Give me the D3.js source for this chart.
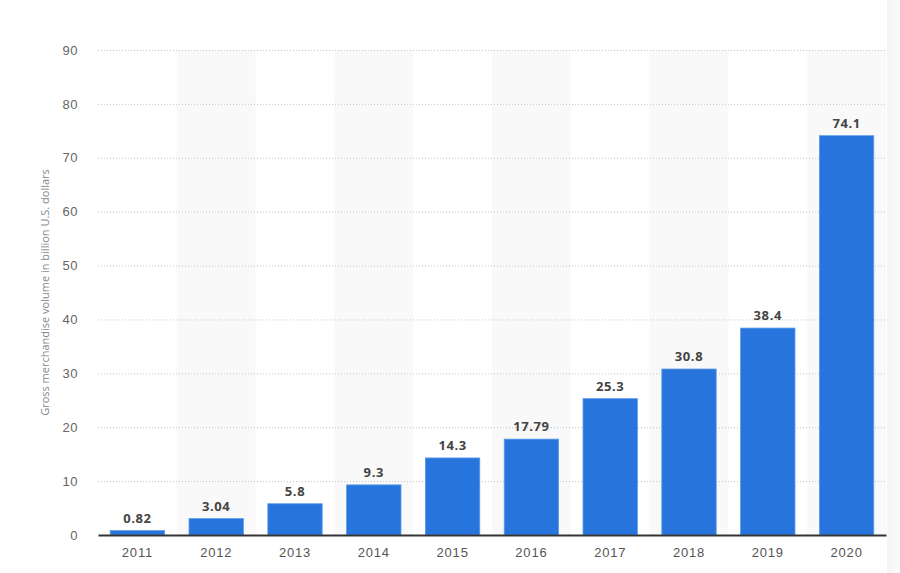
<!DOCTYPE html>
<html>
<head>
<meta charset="utf-8">
<script src="https://cdn.jsdelivr.net/npm/d3@7"></script>
<style>
  body { margin: 0; background: #fff; }
  svg { display: block; font-family: "Open Sans", sans-serif; }
</style>
</head>
<body>
<div id="chart"></div>
<script>
var years = ["2011", "2012", "2013", "2014", "2015", "2016", "2017", "2018", "2019", "2020"];
var values = [0.82, 3.04, 5.8, 9.3, 14.3, 17.79, 25.3, 30.8, 38.4, 74.1];
var yTicks = [0, 10, 20, 30, 40, 50, 60, 70, 80, 90];
var labels = ["0.82", "3.04", "5.8", "9.3", "14.3", "17.79", "25.3", "30.8", "38.4", "74.1"];

var W = 900, H = 573;
var margin = { top: 50, right: 14, bottom: 38, left: 98 },
    width = W - margin.left - margin.right,
    height = H - margin.top - margin.bottom;

var svg = d3.select("#chart").append("svg")
    .attr("width", W)
    .attr("height", H);

// soft shadow at the right edge
var grad = svg.append("defs").append("linearGradient")
    .attr("id", "edge").attr("x1", 0).attr("x2", 1).attr("y1", 0).attr("y2", 0);
grad.append("stop").attr("offset", 0).attr("stop-color", "#f5f5f5");
grad.append("stop").attr("offset", 1).attr("stop-color", "#fbfbfb");
svg.append("rect")
    .attr("x", W - 13).attr("y", 0)
    .attr("width", 13).attr("height", H)
    .attr("fill", "url(#edge)");

var g = svg.append("g")
    .attr("transform", "translate(" + margin.left + "," + margin.top + ")");

var x = d3.scaleBand()
    .domain(years)
    .range([0, width])
    .paddingInner(0.31)
    .paddingOuter(0.155);

var y = d3.scaleLinear()
    .domain([0, 90])
    .range([height, 0]);

// alternating column shading
g.selectAll("rect.band")
    .data(years.filter(function (d, i) { return i % 2 === 1; }))
    .enter().append("rect")
    .attr("class", "band")
    .attr("x", function (d) { return x(d) - x.step() * x.paddingInner() / 2; })
    .attr("y", 0)
    .attr("width", x.step())
    .attr("height", height)
    .attr("fill", "#f9f9f9");

// gridlines
g.selectAll("line.grid")
    .data(yTicks.filter(function (d) { return d > 0; }))
    .enter().append("line")
    .attr("class", "grid")
    .attr("x1", 0)
    .attr("x2", width)
    .attr("y1", function (d) { return y(d) + 0.5; })
    .attr("y2", function (d) { return y(d) + 0.5; })
    .attr("stroke", "#c4c4c4")
    .attr("stroke-dasharray", "1,2");

// y axis labels
var yAxis = g.append("g")
    .call(d3.axisLeft(y).tickValues(yTicks).tickSize(0).tickPadding(20));
yAxis.select(".domain").remove();
yAxis.selectAll("text")
    .attr("fill", "#666")
    .style("font-size", "13px")
    .style("letter-spacing", "0.5px");

// y axis title
svg.append("text")
    .attr("transform", "translate(49," + (margin.top + height / 2) + ") rotate(-90)")
    .attr("text-anchor", "middle")
    .attr("fill", "#888")
    .style("font-size", "11px")
    .text("Gross merchandise volume in billion U.S. dollars");

// bars
g.selectAll("rect.bar")
    .data(values)
    .enter().append("rect")
    .attr("class", "bar")
    .attr("x", function (d, i) { return x(years[i]); })
    .attr("y", function (d) { return y(d); })
    .attr("width", x.bandwidth())
    .attr("height", function (d) { return height - y(d); })
    .attr("fill", "#2775dc")
    .attr("stroke", "#5a9be8")
    .attr("stroke-width", 0.8);

// value labels
g.selectAll("text.val")
    .data(values)
    .enter().append("text")
    .attr("class", "val")
    .attr("x", function (d, i) { return x(years[i]) + x.bandwidth() / 2; })
    .attr("y", function (d) { return y(d) - 8; })
    .attr("text-anchor", "middle")
    .attr("fill", "#444")
    .style("font-size", "13px")
    .style("font-weight", "bold")
    .style("letter-spacing", "0.6px")
    .text(function (d, i) { return labels[i]; });

// x axis
var xAxis = g.append("g")
    .attr("transform", "translate(0," + height + ")")
    .call(d3.axisBottom(x).tickSize(0).tickPadding(13));
xAxis.select(".domain")
    .attr("stroke", "#333")
    .attr("stroke-width", 2);
xAxis.selectAll("text")
    .attr("fill", "#555")
    .style("font-size", "13px")
    .style("letter-spacing", "0.8px");
</script>
</body>
</html>
